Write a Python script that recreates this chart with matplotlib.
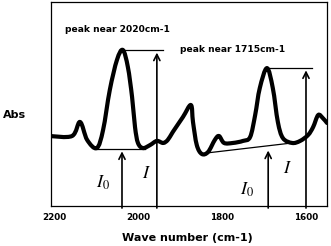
import numpy as np
from matplotlib import pyplot as plt
from matplotlib.path import Path
from matplotlib.patches import PathPatch

# spectrum (wave number, absorbance in arbitrary units)
wave_number = [2210, 2157, 2138, 2121, 2098, 2083, 2067, 2050, 2036, 2024, 2014, 2007,
               2000, 1988, 1971, 1955, 1940, 1929, 1917, 1893, 1874, 1869, 1860, 1848,
               1833, 1817, 1807, 1795, 1774, 1750, 1733, 1721, 1710, 1693, 1679, 1667,
               1655, 1633, 1614, 1595, 1583, 1571, 1560, 1550]
absorbance = [0.343, 0.343, 0.412, 0.324, 0.284, 0.373, 0.569, 0.716, 0.765, 0.681, 0.534, 0.387,
              0.309, 0.284, 0.299, 0.319, 0.309, 0.324, 0.363, 0.436, 0.495, 0.412, 0.299, 0.255,
              0.265, 0.324, 0.343, 0.309, 0.309, 0.319, 0.338, 0.446, 0.578, 0.676, 0.578, 0.412,
              0.333, 0.309, 0.319, 0.348, 0.387, 0.446, 0.431, 0.407]

# guide lines: (x0, x1), (y0, y1)
base_2020 = ([2098, 1983], [0.279, 0.279])
top_2020 = ([2036, 1940], [0.765, 0.765])
base_1715 = ([1836, 1633], [0.260, 0.309])
top_1715 = ([1693, 1586], [0.676, 0.676])

# arrows: x position, tip height
arrow_x = [2038, 1955, 1690, 1600]
arrow_tip = [0.268, 0.752, 0.272, 0.665]

# arrow labels
label_text = [r'$I_{\mathrm{0}}$', r'$I$', r'$I_{\mathrm{0}}$', r'$I$']
label_x = [2083, 1979, 1740, 1643]
label_y = [0.113, 0.162, 0.078, 0.186]

tick_values = [2200, 2000, 1800, 1600]


def smooth_path(xs, ys):
    # Catmull-Rom through the traced points, drawn as cubic bezier segments
    p = np.column_stack([xs, ys]).astype(float)
    p = np.vstack([p[0], p, p[-1]])
    verts = [p[1]]
    codes = [Path.MOVETO]
    for i in range(1, len(p) - 2):
        c1 = p[i] + (p[i + 1] - p[i - 1]) / 6
        c2 = p[i + 1] - (p[i + 2] - p[i]) / 6
        verts += [c1, c2, p[i + 1]]
        codes += [Path.CURVE4] * 3
    return Path(verts, codes)


plt.rcParams['mathtext.fontset'] = 'stix'

fig = plt.figure(figsize=(3.31, 2.46), dpi=100)
ax = fig.add_axes([51 / 331, 40 / 246, 276 / 331, 204 / 246])

ax.add_patch(PathPatch(smooth_path(wave_number, absorbance), facecolor='none',
                       edgecolor='black', linewidth=3.0, joinstyle='round', capstyle='round'))

for xs, ys in [base_2020, top_2020, base_1715, top_1715]:
    ax.plot(xs, ys, color='black', linewidth=0.9)

for x, tip in zip(arrow_x, arrow_tip):
    ax.annotate('', xy=(x, tip), xytext=(x, -0.01),
                arrowprops=dict(arrowstyle='->', color='black', lw=1.2,
                                mutation_scale=11, shrinkA=0, shrinkB=0))

for t, x, y in zip(label_text, label_x, label_y):
    ax.text(x, y, t, fontsize=13, ha='center', va='center')

ax.text(2174, 0.863, 'peak near 2020cm-1', fontsize=6.6, fontweight='bold', ha='left', va='center')
ax.text(1900, 0.765, 'peak near 1715cm-1', fontsize=6.6, fontweight='bold', ha='left', va='center')

ax.set_xlim(2207, 1550)
ax.set_ylim(0, 1)
ax.set_xticks(tick_values)
ax.set_xticklabels([str(v) for v in tick_values], fontsize=6.3, fontweight='bold')
ax.tick_params(axis='x', length=0, pad=5)
ax.set_yticks([])
for s in ax.spines.values():
    s.set_linewidth(0.9)

fig.text(3 / 331, 1 - 115 / 246, 'Abs', fontsize=8, fontweight='bold', ha='left', va='center')
fig.text(187 / 331, 1 - 238 / 246, 'Wave number (cm-1)', fontsize=8, fontweight='bold',
         ha='center', va='center')

fig.savefig('out.png', dpi=100)
